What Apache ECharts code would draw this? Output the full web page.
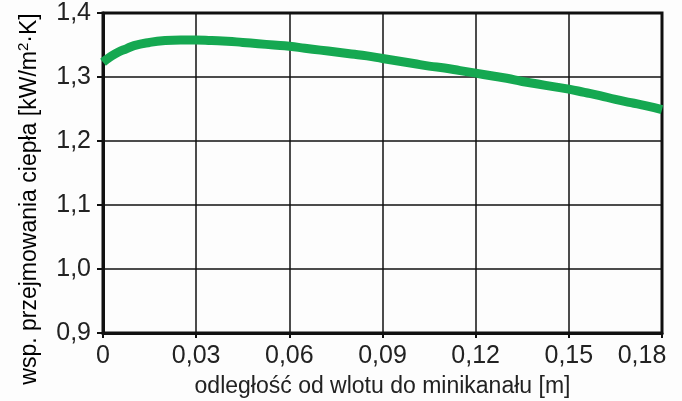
<!DOCTYPE html>
<html>
<head>
<meta charset="utf-8">
<script src="https://cdn.jsdelivr.net/npm/echarts@6/dist/echarts.min.js"></script>
<style>
html,body{margin:0;padding:0;background:#fdfdfd;}
#c{width:682px;height:401px;}
</style>
</head>
<body>
<div id="c"></div>
<script>
// distance from minichannel inlet [m]
var distance = [0, 0.0025, 0.005, 0.0075, 0.01, 0.015, 0.02, 0.025, 0.03, 0.035, 0.04, 0.045, 0.05, 0.055, 0.06, 0.065, 0.07, 0.075, 0.08, 0.085, 0.09, 0.095, 0.1, 0.105, 0.11, 0.115, 0.12, 0.125, 0.13, 0.135, 0.14, 0.145, 0.15, 0.155, 0.16, 0.165, 0.17, 0.175, 0.18];
// heat transfer coefficient [kW/m2K]
var htc = [1.323, 1.332, 1.339, 1.344, 1.349, 1.354, 1.357, 1.358, 1.358, 1.357, 1.356, 1.354, 1.352, 1.350, 1.348, 1.345, 1.342, 1.339, 1.336, 1.333, 1.329, 1.325, 1.321, 1.317, 1.314, 1.310, 1.306, 1.302, 1.298, 1.293, 1.289, 1.285, 1.281, 1.276, 1.271, 1.265, 1.260, 1.255, 1.249];
var xTitle = 'odległość od wlotu do minikanału [m]';
var yTitleParts = ['wsp. przejmowania ciepła [kW/m', '2', '·K]'];

var points = distance.map(function (d, i) { return [d, htc[i]]; });
var FONT = '"Liberation Sans", Arial, sans-serif';
var X_MAX = 0.18;

var chart = echarts.init(document.getElementById('c'));
chart.setOption({
  backgroundColor: '#fdfdfd',
  animation: false,
  grid: { left: 103, top: 13, right: 20, bottom: 68, outerBoundsMode: 'none', containLabel: false,
    show: true, borderColor: '#111', borderWidth: 3, backgroundColor: 'transparent' },
  xAxis: {
    type: 'value', min: 0, max: X_MAX, interval: 0.03,
    name: xTitle, nameLocation: 'middle', nameGap: 42,
    nameTextStyle: { fontFamily: FONT, fontSize: 23, color: '#222' },
    axisLine: { show: true, lineStyle: { color: '#111', width: 3 } },
    axisTick: { show: true, length: 5, lineStyle: { color: '#111', width: 2 } },
    axisLabel: { margin: 11, fontFamily: FONT, fontSize: 25, color: '#222',
      rich: { last: { fontFamily: FONT, fontSize: 25, color: '#222', padding: [0, 40, 0, 0] } },
      formatter: function (v) {
        var s = v === 0 ? '0' : v.toFixed(2).replace('.', ',');
        return Math.abs(v - X_MAX) < 1e-9 ? '{last|' + s + '}' : s;
      } },
    splitLine: { show: true, lineStyle: { color: '#111', width: 1.5 } }
  },
  yAxis: {
    type: 'value', min: 0.9, max: 1.4, interval: 0.1,
    axisLine: { show: true, lineStyle: { color: '#111', width: 3 } },
    axisTick: { show: true, length: 6, lineStyle: { color: '#111', width: 2 } },
    axisLabel: { margin: 12, fontFamily: FONT, fontSize: 25, color: '#222',
      formatter: function (v) { return v.toFixed(1).replace('.', ','); } },
    splitLine: { show: true, lineStyle: { color: '#111', width: 1.5 } }
  },
  graphic: [{
    type: 'text',
    x: 30, y: 199,
    rotation: Math.PI / 2,
    style: {
      text: '{a|' + yTitleParts[0] + '}{s|' + yTitleParts[1] + '}{a|' + yTitleParts[2] + '}',
      align: 'center', verticalAlign: 'middle',
      rich: {
        a: { fontFamily: FONT, fontSize: 23, color: '#222', lineHeight: 28 },
        s: { fontFamily: FONT, fontSize: 15, color: '#222', verticalAlign: 'top', lineHeight: 15 }
      }
    }
  }],
  series: [{
    type: 'line',
    data: points,
    smooth: true,
    showSymbol: false,
    lineStyle: { color: '#15a851', width: 9 },
    z: 5
  }]
});
</script>
</body>
</html>
